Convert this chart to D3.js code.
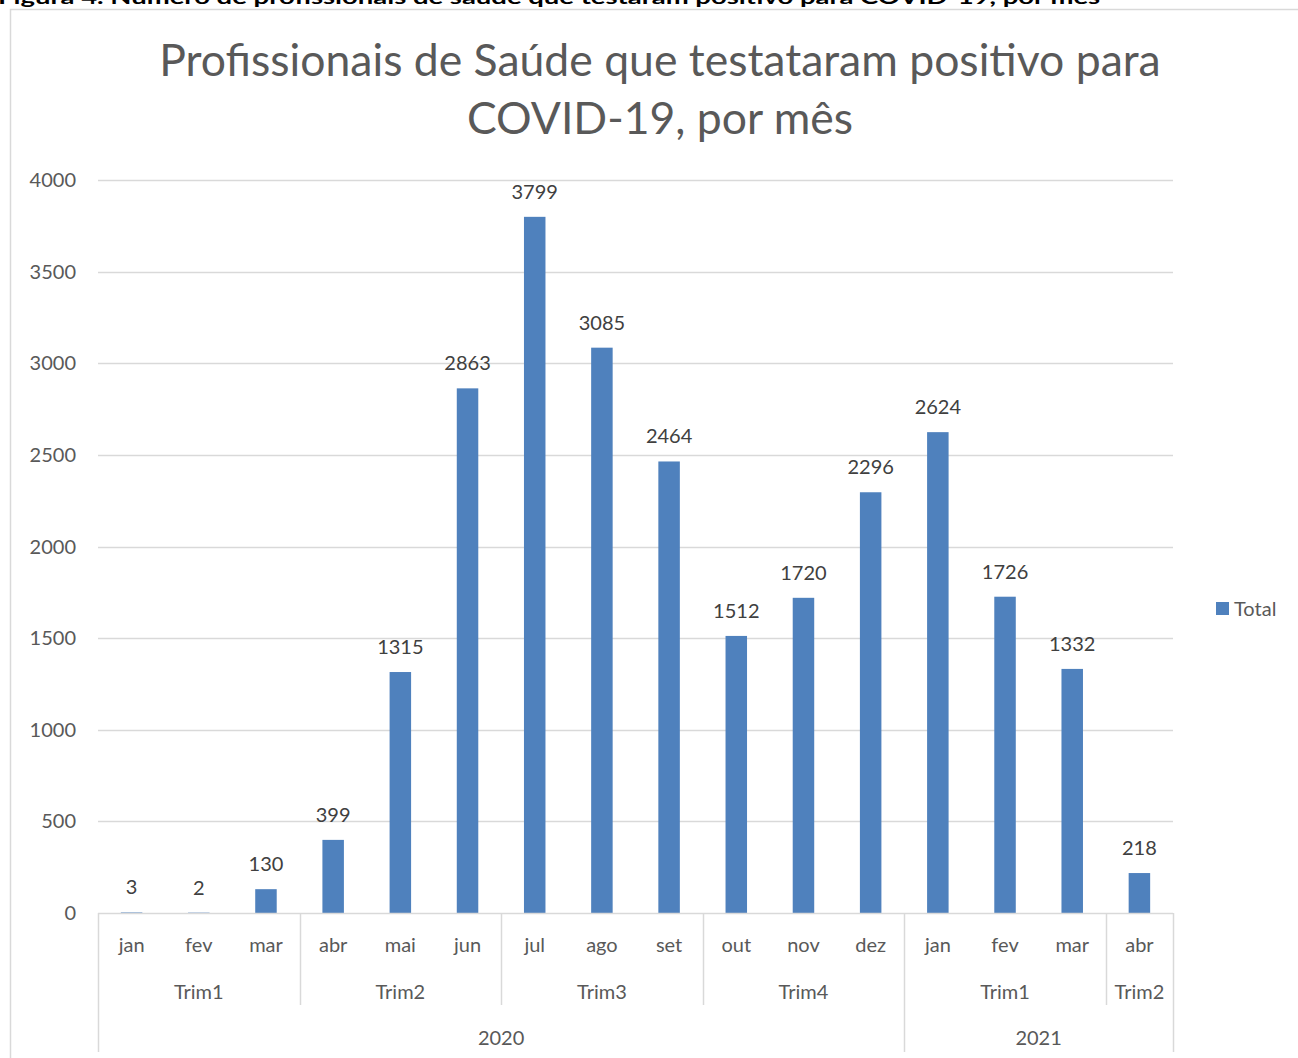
<!DOCTYPE html>
<html>
<head>
<meta charset="utf-8">
<script src="https://cdn.jsdelivr.net/npm/d3@7"></script>
<style>
  body { margin: 0; background: #fff; }
  text { font-family: Lato, "Open Sans", sans-serif; }
</style>
</head>
<body>
<svg id="chart" width="1298" height="1058"></svg>
<script>
// data
const months = ["jan","fev","mar","abr","mai","jun","jul","ago","set","out","nov","dez","jan","fev","mar","abr"];
const quarters = ["Trim1","Trim1","Trim1","Trim2","Trim2","Trim2","Trim3","Trim3","Trim3","Trim4","Trim4","Trim4","Trim1","Trim1","Trim1","Trim2"];
const years = ["2020","2020","2020","2020","2020","2020","2020","2020","2020","2020","2020","2020","2021","2021","2021","2021"];
const totals = [3, 2, 130, 399, 1315, 2863, 3799, 3085, 2464, 1512, 1720, 2296, 2624, 1726, 1332, 218];
const yTicks = [0, 500, 1000, 1500, 2000, 2500, 3000, 3500, 4000];

const svg = d3.select("#chart");
const labelColor = "#595959";
const lineColor = "#d9d9d9";
const barColor = "#4f81bd";

const margin = {left: 98, right: 1173, top: 180, bottom: 913};

// outer chart frame (runs off the page right and bottom)
svg.append("rect")
  .attr("x", 10.5).attr("y", 9.5)
  .attr("width", 1400).attr("height", 1200)
  .attr("fill", "none")
  .attr("stroke", lineColor)
  .attr("stroke-width", 1.5);

// caption, partly cut by the top of the page as in the source
svg.append("text")
  .attr("x", -2).attr("y", 4)
  .attr("font-family", "'Liberation Sans', sans-serif")
  .attr("font-weight", "bold")
  .attr("font-size", 19)
  .attr("textLength", 1118)
  .attr("lengthAdjust", "spacingAndGlyphs")
  .attr("fill", "#000")
  .text("Figura 4. Número de profissionais de saúde que testaram positivo para COVID-19, por mês ¹");

const x = d3.scaleBand()
  .domain(d3.range(months.length))
  .range([margin.left, margin.right])
  .paddingInner(0.68)
  .paddingOuter(0.34);

const xOuter = d3.scaleBand()
  .domain(d3.range(months.length))
  .range([margin.left, margin.right]);

const y = d3.scaleLinear()
  .domain([0, 4000])
  .range([margin.bottom, margin.top]);

// gridlines
svg.append("g")
  .selectAll("line")
  .data(yTicks.filter(d => d > 0))
  .join("line")
  .attr("x1", margin.left).attr("x2", margin.right)
  .attr("y1", d => Math.round(y(d)) + 0.5)
  .attr("y2", d => Math.round(y(d)) + 0.5)
  .attr("stroke", lineColor)
  .attr("stroke-width", 1.3);

// y tick labels
svg.append("g")
  .selectAll("text")
  .data(yTicks)
  .join("text")
  .attr("x", 76)
  .attr("y", d => y(d))
  .attr("dy", "0.35em")
  .attr("text-anchor", "end")
  .attr("font-size", 20)
  .attr("fill", labelColor)
  .text(d => d);

// bars
svg.append("g")
  .selectAll("rect")
  .data(totals)
  .join("rect")
  .attr("x", (d, i) => x(i))
  .attr("width", x.bandwidth())
  .attr("y", d => y(d))
  .attr("height", d => y(0) - y(d))
  .attr("fill", barColor);

// value labels
svg.append("g")
  .selectAll("text")
  .data(totals)
  .join("text")
  .attr("x", (d, i) => xOuter(i) + xOuter.bandwidth() / 2)
  .attr("y", d => y(d) - 25)
  .attr("dy", "0.35em")
  .attr("text-anchor", "middle")
  .attr("font-size", 20)
  .attr("fill", "#404040")
  .text(d => d);

// baseline
svg.append("line")
  .attr("x1", margin.left).attr("x2", margin.right)
  .attr("y1", margin.bottom + 0.5).attr("y2", margin.bottom + 0.5)
  .attr("stroke", lineColor).attr("stroke-width", 1.5);

// multi-level category axis
const monthY = 945, quarterY = 992, yearY = 1038;
const quarterBottom = 1005, yearBottom = 1052;

function groups(keys) {
  const out = [];
  keys.forEach((k, i) => {
    const last = out[out.length - 1];
    if (last && last.key === k && years[i] === years[last.start]) last.end = i;
    else out.push({key: k, start: i, end: i});
  });
  return out;
}
const qGroups = groups(quarters);
const yGroups = groups(years);

const axisG = svg.append("g");

axisG.selectAll(".m")
  .data(months)
  .join("text")
  .attr("x", (d, i) => xOuter(i) + xOuter.bandwidth() / 2)
  .attr("y", monthY)
  .attr("dy", "0.35em")
  .attr("text-anchor", "middle")
  .attr("font-size", 20)
  .attr("fill", labelColor)
  .text(d => d);

axisG.selectAll(".q")
  .data(qGroups)
  .join("text")
  .attr("x", d => (xOuter(d.start) + xOuter(d.end) + xOuter.bandwidth()) / 2)
  .attr("y", quarterY)
  .attr("dy", "0.35em")
  .attr("text-anchor", "middle")
  .attr("font-size", 20)
  .attr("fill", labelColor)
  .text(d => d.key);

axisG.selectAll(".yr")
  .data(yGroups)
  .join("text")
  .attr("x", d => (xOuter(d.start) + xOuter(d.end) + xOuter.bandwidth()) / 2)
  .attr("y", yearY)
  .attr("dy", "0.35em")
  .attr("text-anchor", "middle")
  .attr("font-size", 20)
  .attr("fill", labelColor)
  .text(d => d.key);

// separators: quarter boundaries to quarter row, year boundaries to bottom
const yearEdges = new Set(yGroups.map(g => g.start).concat([months.length]));
const edges = qGroups.map(g => g.start).concat([months.length]);
axisG.selectAll(".sep")
  .data(edges)
  .join("line")
  .attr("x1", d => Math.round(xOuter.range()[0] + d * xOuter.step()) + 0.5)
  .attr("x2", d => Math.round(xOuter.range()[0] + d * xOuter.step()) + 0.5)
  .attr("y1", margin.bottom)
  .attr("y2", d => yearEdges.has(d) ? yearBottom : quarterBottom)
  .attr("stroke", lineColor)
  .attr("stroke-width", 1.5);

// title
const title = svg.append("text")
  .attr("text-anchor", "middle")
  .attr("font-size", 44.5)
  .attr("fill", labelColor);
title.append("tspan").attr("x", 660).attr("y", 76).text("Profissionais de Saúde que testataram positivo para");
title.append("tspan").attr("x", 660).attr("y", 134).text("COVID-19, por mês");

// legend
const legend = svg.append("g").attr("transform", "translate(1216,602)");
legend.append("rect").attr("width", 13).attr("height", 13).attr("fill", barColor);
legend.append("text")
  .attr("x", 18).attr("y", 6.5)
  .attr("dy", "0.35em")
  .attr("font-size", 20)
  .attr("fill", labelColor)
  .text("Total");
</script>
</body>
</html>
